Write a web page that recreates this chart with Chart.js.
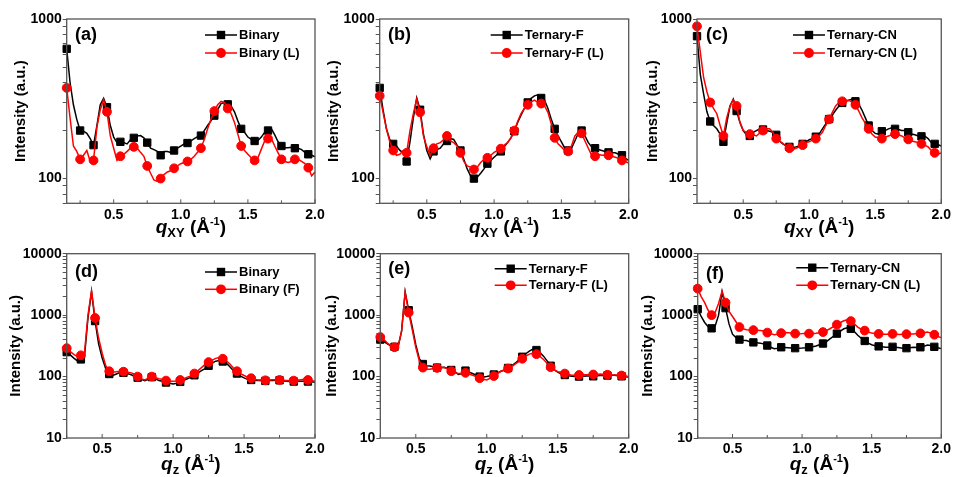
<!DOCTYPE html>
<html>
<head>
<meta charset="utf-8">
<script src="https://cdn.jsdelivr.net/npm/chart.js@4.4.1/dist/chart.umd.min.js"></script>
<style>
  html, body { margin: 0; padding: 0; background: #fff; }
  #wrap { position: relative; width: 954px; height: 477px; overflow: hidden; }
  #wrap canvas { position: absolute; left: 0; top: 0; }
</style>
</head>
<body>
<div id="wrap">
  <canvas id="panelA" width="954" height="477"></canvas>
  <canvas id="panelB" width="954" height="477"></canvas>
  <canvas id="panelC" width="954" height="477"></canvas>
  <canvas id="panelD" width="954" height="477"></canvas>
  <canvas id="panelE" width="954" height="477"></canvas>
  <canvas id="panelF" width="954" height="477"></canvas>
</div>
<script>
// q grids (A^-1)
const qXY = [0.15,0.175,0.2,0.225,0.25,0.275,0.3,0.325,0.35,0.375,0.4,0.425,0.45,0.475,0.5,0.525,0.55,0.575,0.6,0.625,
  0.65,0.675,0.7,0.725,0.75,0.775,0.8,0.825,0.85,0.875,0.9,0.925,0.95,0.975,1.0,1.025,1.05,1.075,1.1,1.125,
  1.15,1.175,1.2,1.225,1.25,1.275,1.3,1.325,1.35,1.375,1.4,1.425,1.45,1.475,1.5,1.525,1.55,1.575,1.6,1.625,
  1.65,1.675,1.7,1.725,1.75,1.775,1.8,1.825,1.85,1.875,1.9,1.925,1.95,1.975,2.0];
const qZ = [0.25,0.275,0.3,0.325,0.35,0.375,0.4,0.425,0.45,0.475,0.5,0.525,0.55,0.575,0.6,0.625,0.65,0.675,0.7,0.725,
  0.75,0.775,0.8,0.825,0.85,0.875,0.9,0.925,0.95,0.975,1.0,1.025,1.05,1.075,1.1,1.125,1.15,1.175,1.2,1.225,
  1.25,1.275,1.3,1.325,1.35,1.375,1.4,1.425,1.45,1.475,1.5,1.525,1.55,1.575,1.6,1.625,1.65,1.675,1.7,1.725,
  1.75,1.775,1.8,1.825,1.85,1.875,1.9,1.925,1.95,1.975,2.0];

// in-plane cuts
const binaryXY = [650,400,290,235,200,198,192,178,162,215,290,318,280,215,182,168,170,168,165,175,
  180,185,186,180,168,155,152,148,140,148,148,146,150,155,160,165,167,172,178,183,
  186,200,215,230,248,270,295,300,292,285,262,230,205,195,182,176,172,173,182,195,
  200,205,188,170,160,156,156,157,155,155,152,146,142,140,137];
const binaryLXY = [370,240,160,148,132,140,150,128,130,210,270,312,262,185,155,130,138,142,148,155,
  158,155,146,138,120,108,98,96,100,106,110,112,116,120,124,126,128,132,138,146,
  155,176,205,235,265,290,305,300,275,255,225,190,160,150,142,135,130,135,153,172,
  178,178,160,145,132,128,126,128,132,132,128,124,117,104,110];
const ternFXY = [370,270,205,175,165,160,150,145,128,170,240,320,270,190,150,133,148,152,155,165,
  172,178,176,162,150,132,115,104,100,102,108,115,124,130,136,142,148,158,168,180,
  198,225,250,275,300,318,330,335,320,310,275,235,205,185,170,155,150,155,172,192,
  200,185,168,158,155,152,150,148,146,145,145,142,140,134,130];
const ternFLXY = [330,260,205,170,150,140,142,150,145,200,255,315,260,185,158,140,155,165,168,175,
  185,172,168,160,145,128,120,118,114,118,126,132,135,140,146,150,154,162,168,180,
  200,228,255,275,290,302,310,300,295,285,260,220,180,165,158,150,148,160,185,195,
  192,172,155,140,138,142,140,140,140,138,136,134,130,128,125];
const ternCNXY = [780,450,340,262,228,215,205,190,170,222,285,315,265,225,200,188,185,195,200,205,
  203,200,198,195,188,172,165,160,158,156,158,160,165,170,175,178,183,190,205,220,
  236,250,268,285,298,305,310,315,305,292,268,240,215,200,192,190,198,200,205,208,
  205,203,200,200,195,190,188,185,184,185,178,168,165,163,160];
const ternCNLXY = [900,620,430,350,300,275,255,215,185,240,285,312,285,225,200,195,190,188,185,193,
  200,205,205,195,178,172,166,160,155,152,155,158,162,168,170,174,178,185,195,215,
  235,260,285,300,305,308,310,300,290,265,240,222,205,190,182,180,178,182,185,188,
  190,188,185,180,176,172,170,168,165,162,158,150,145,142,145];

// out-of-plane cuts
const binaryZ = [250,225,200,180,190,205,900,2400,800,340,200,135,110,104,110,116,115,112,108,102,
  96,90,86,90,98,92,86,84,80,78,76,78,82,87,92,97,105,115,125,135,
  150,165,178,182,176,165,145,125,112,102,95,90,88,87,86,86,85,86,86,87,
  87,85,84,83,83,84,84,84,83,82,81];
const binaryFZ = [290,255,230,210,222,240,1000,2500,900,420,240,150,122,118,120,122,120,118,116,110,
  100,92,88,94,100,96,92,90,86,84,84,85,88,92,98,102,112,125,140,158,
  172,185,198,205,195,180,160,138,122,112,104,98,94,90,88,88,87,88,89,89,
  88,87,86,86,86,87,89,90,88,86,84];
const ternFZ = [400,370,340,315,305,300,550,2400,1200,650,330,195,160,150,148,145,140,140,142,135,
  128,120,108,112,125,118,112,105,100,98,100,103,108,115,122,128,138,150,165,185,
  210,235,260,280,270,245,215,180,150,130,118,110,106,103,101,100,100,101,102,102,
  101,103,104,104,104,105,105,103,101,99,98];
const ternFLZ = [440,400,350,320,300,305,550,2350,1100,580,300,180,140,132,132,135,138,140,140,132,
  122,115,112,112,115,110,105,100,94,90,88,94,102,112,122,128,135,145,160,175,
  195,215,232,240,232,212,190,165,142,128,120,118,112,108,105,105,106,107,107,108,
  108,108,110,108,107,106,106,106,104,102,100];
const ternCNZ = [1250,950,760,650,610,660,1000,2400,1300,720,490,430,400,390,385,370,360,355,350,340,
  320,300,285,290,300,298,295,292,290,290,292,295,300,305,315,330,345,370,410,450,
  500,550,600,625,600,540,470,420,380,350,330,318,310,305,300,300,305,300,295,290,
  290,295,300,298,300,310,325,320,305,295,285];
const ternCNLZ = [2700,2000,1600,1200,1000,1100,1550,2450,1600,1150,950,780,640,600,580,575,570,565,560,550,
  520,500,480,490,510,520,515,510,500,495,500,505,500,498,505,515,530,560,600,650,
  700,760,810,840,800,720,640,590,560,530,510,500,495,490,490,490,495,490,485,488,
  490,492,495,500,505,515,530,510,480,450,430];

// labelled ticks
const yTickXY = [100, 1000];
const yTickZ = [10, 100, 1000, 10000];
const xTickMajor = [0.5, 1.0, 1.5, 2.0];

const FONT = '"Liberation Sans", Arial, Helvetica, sans-serif';
const BLACK = '#000000';
const RED = '#ff0000';
const AXIS = '#555555';

function series(xs, ys, color, style, order) {
  return {
    data: xs.map((x, i) => ({ x: x, y: ys[i] })),
    borderColor: color,
    backgroundColor: color,
    borderWidth: 1.5,
    pointStyle: style,
    pointBackgroundColor: color,
    pointBorderColor: color,
    pointBorderWidth: 1,
    pointRadius: ctx => (ctx.dataIndex % 4 === 0 ? (style === 'rect' ? 5.2 : 4.4) : 0),
    pointHoverRadius: 0,
    tension: 0,
    clip: 6,
    order: order
  };
}

function drawQTitle(ctx, cx, base, sub) {
  const parts = [
    { t: 'q', f: 'italic bold 19px ' + FONT, dy: 0 },
    { t: sub, f: 'bold 13px ' + FONT, dy: 4 },
    { t: ' (\u00C5', f: 'bold 19px ' + FONT, dy: 0 },
    { t: '-1', f: 'bold 11px ' + FONT, dy: -8 },
    { t: ')', f: 'bold 19px ' + FONT, dy: 0 }
  ];
  let w = 0;
  parts.forEach(p => { ctx.font = p.f; p.w = ctx.measureText(p.t).width; w += p.w; });
  let x = cx - w / 2;
  ctx.textAlign = 'left';
  ctx.textBaseline = 'alphabetic';
  parts.forEach(p => { ctx.font = p.f; ctx.fillText(p.t, x, base + p.dy); x += p.w; });
}

function drawMarker(ctx, style, x, y, color) {
  ctx.fillStyle = color;
  ctx.beginPath();
  if (style === 'rect') ctx.rect(x - 4.2, y - 4.2, 8.4, 8.4);
  else ctx.arc(x, y, 4.9, 0, Math.PI * 2);
  ctx.fill();
}

// frame, inward x ticks, panel letter, legend and x title
const panelDecor = {
  id: 'panelDecor',
  afterDraw(chart, args, opts) {
    const ctx = chart.ctx;
    const area = chart.chartArea;
    const xs = chart.scales.x;
    ctx.save();
    ctx.strokeStyle = AXIS;
    ctx.lineWidth = 1;
    xs.ticks.forEach(t => {
      const px = xs.getPixelForValue(t.value);
      const major = Math.abs(t.value * 2 - Math.round(t.value * 2)) < 1e-6;
      ctx.beginPath();
      ctx.moveTo(px, area.bottom);
      ctx.lineTo(px, area.bottom - (major ? 4 : 3));
      ctx.stroke();
    });
    ctx.lineWidth = 1.3;
    ctx.strokeRect(area.left, area.top, area.right - area.left, area.bottom - area.top);

    ctx.fillStyle = BLACK;
    ctx.font = 'bold 18px ' + FONT;
    ctx.textAlign = 'left';
    ctx.textBaseline = 'middle';
    ctx.fillText(opts.tag, area.left + opts.tagDx, area.top + opts.tagDy);

    opts.legend.forEach((item, k) => {
      const y = area.top + opts.legendDy + k * opts.legendGap;
      const x0 = area.right - opts.legendDx;
      ctx.strokeStyle = item.color;
      ctx.lineWidth = 1.5;
      ctx.beginPath();
      ctx.moveTo(x0, y);
      ctx.lineTo(x0 + 32, y);
      ctx.stroke();
      drawMarker(ctx, item.style, x0 + 16, y, item.color);
      ctx.fillStyle = BLACK;
      ctx.font = 'bold 13px ' + FONT;
      ctx.textAlign = 'left';
      ctx.textBaseline = 'middle';
      ctx.fillText(item.label, x0 + 34, y + 0.5);
    });

    ctx.fillStyle = BLACK;
    drawQTitle(ctx, (area.left + area.right) / 2, area.bottom + opts.titleDy, opts.sub);
    ctx.restore();
  }
};

function isFifteen(v) {
  const m = v / Math.pow(10, Math.floor(Math.log10(v)));
  return Math.abs(m - 1.5) < 1e-6;
}

function makePanel(id, p) {
  const labelled = p.yTicks;
  new Chart(document.getElementById(id), {
    type: 'line',
    data: {
      datasets: [
        series(p.q, p.black, BLACK, 'rect', 1),
        series(p.q, p.red, RED, 'circle', 0)
      ]
    },
    options: {
      responsive: false,
      animation: false,
      devicePixelRatio: 1,
      events: [],
      layout: {
        padding: { left: p.left - p.yWidth, right: 954 - p.right, top: p.top, bottom: 477 - p.bottom - 30 }
      },
      scales: {
        x: {
          type: 'linear',
          min: p.xMin,
          max: 2.0,
          afterFit: s => { s.height = 30; },
          border: { display: false },
          grid: { display: false, drawTicks: false },
          ticks: {
            stepSize: 0.25,
            includeBounds: false,
            autoSkip: false,
            maxRotation: 0,
            padding: 3,
            color: BLACK,
            font: { family: FONT, size: 14, weight: 'bold' },
            callback: v => (xTickMajor.some(m => Math.abs(m - v) < 1e-6) ? v.toFixed(1) : '')
          }
        },
        y: {
          type: 'logarithmic',
          min: p.yMin,
          max: p.yMax,
          afterFit: s => { s.width = p.yWidth; },
          border: { display: false },
          grid: {
            drawOnChartArea: false,
            drawTicks: true,
            tickLength: 4,
            color: c => (c.tick && isFifteen(c.tick.value) ? 'rgba(0,0,0,0)' : AXIS)
          },
          ticks: {
            autoSkip: false,
            padding: 1,
            color: BLACK,
            font: { family: FONT, size: 14, weight: 'bold' },
            callback: v => (labelled.some(t => Math.abs(t - v) < 1e-6) ? String(v) : '')
          },
          title: {
            display: true,
            text: 'Intensity (a.u.)',
            color: BLACK,
            padding: 0,
            font: { family: FONT, size: 15, weight: 'bold' }
          }
        }
      },
      plugins: {
        legend: { display: false },
        tooltip: { enabled: false },
        panelDecor: {
          tag: p.tag, tagDx: p.tagDx, tagDy: p.tagDy,
          legend: [
            { label: p.names[0], color: BLACK, style: 'rect' },
            { label: p.names[1], color: RED, style: 'circle' }
          ],
          legendDx: p.legendDx, legendDy: p.legendDy, legendGap: p.legendGap,
          sub: p.sub, titleDy: p.titleDy
        }
      }
    },
    plugins: [panelDecor]
  });
}

const topRow = { q: qXY, xMin: 0.15, yMin: 70, yMax: 1000, yTicks: yTickXY, top: 19, bottom: 203.3, sub: 'XY', titleDy: 30 };
const bottomRow = { q: qZ, xMin: 0.25, yMin: 10, yMax: 10000, yTicks: yTickZ, top: 253.7, bottom: 438, sub: 'z', titleDy: 32 };

makePanel('panelA', Object.assign({}, topRow, {
  black: binaryXY, red: binaryLXY, names: ['Binary', 'Binary (L)'], tag: '(a)',
  left: 66.7, right: 315, yWidth: 55, tagDx: 8.3, tagDy: 16, legendDx: 110, legendDy: 16, legendGap: 18
}));
makePanel('panelB', Object.assign({}, topRow, {
  black: ternFXY, red: ternFLXY, names: ['Ternary-F', 'Ternary-F (L)'], tag: '(b)',
  left: 379.7, right: 628.7, yWidth: 55, tagDx: 8.3, tagDy: 16, legendDx: 138, legendDy: 16, legendGap: 18
}));
makePanel('panelC', Object.assign({}, topRow, {
  black: ternCNXY, red: ternCNLXY, names: ['Ternary-CN', 'Ternary-CN (L)'], tag: '(c)',
  left: 697, right: 946, yWidth: 53, tagDx: 9, tagDy: 16, legendDx: 148.3, legendDy: 16, legendGap: 18
}));
makePanel('panelD', Object.assign({}, bottomRow, {
  black: binaryZ, red: binaryFZ, names: ['Binary', 'Binary (F)'], tag: '(d)',
  left: 66.7, right: 315, yWidth: 60, tagDx: 8.3, tagDy: 18.3, legendDx: 110, legendDy: 18.3, legendGap: 17.3
}));
makePanel('panelE', Object.assign({}, bottomRow, {
  black: ternFZ, red: ternFLZ, names: ['Ternary-F', 'Ternary-F (L)'], tag: '(e)',
  left: 380.3, right: 628.7, yWidth: 57, tagDx: 8, tagDy: 15.3, legendDx: 134, legendDy: 15, legendGap: 16.6
}));
makePanel('panelF', Object.assign({}, bottomRow, {
  black: ternCNZ, red: ternCNLZ, names: ['Ternary-CN', 'Ternary-CN (L)'], tag: '(f)',
  left: 697.7, right: 946, yWidth: 59, tagDx: 8.3, tagDy: 20, legendDx: 145, legendDy: 14, legendGap: 17.6
}));
</script>
</body>
</html>
